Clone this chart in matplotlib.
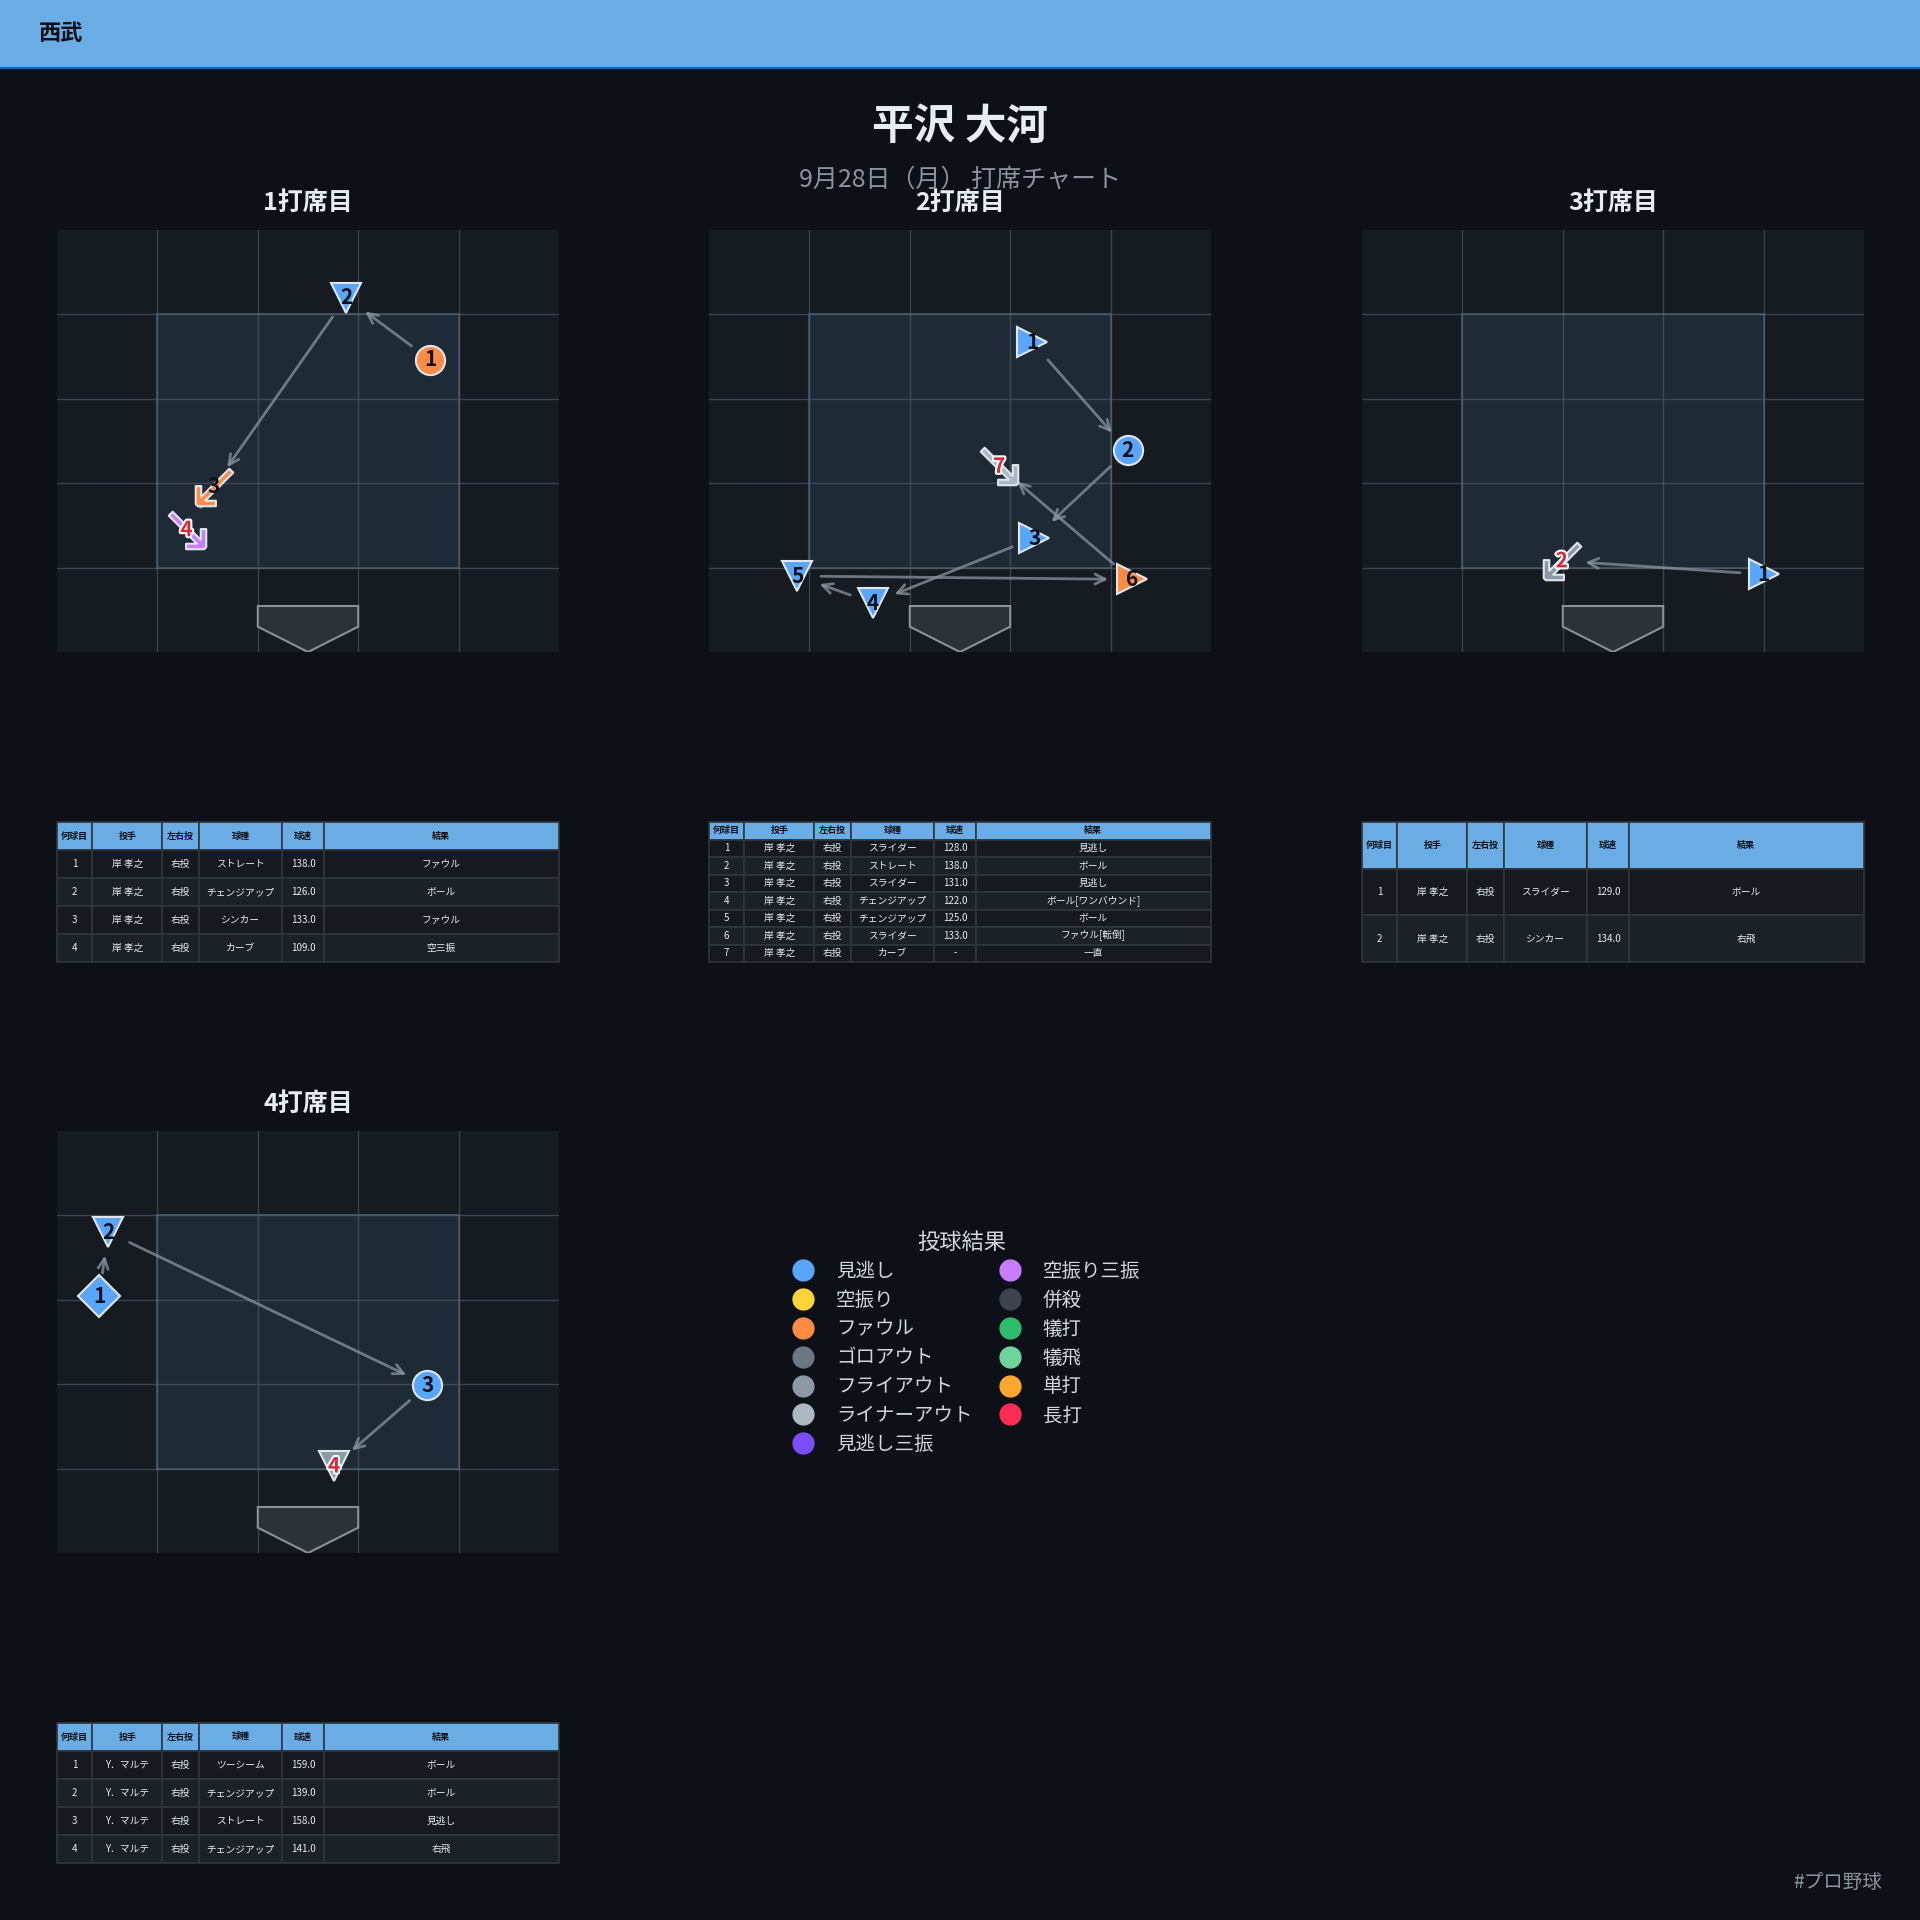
import matplotlib
matplotlib.use("Agg")
import matplotlib.pyplot as plt
from matplotlib.patches import Rectangle, Polygon
from matplotlib.lines import Line2D
import matplotlib.patheffects as pe

plt.rcParams['font.family'] = ['Noto Sans CJK JP', 'DejaVu Sans']

# --- データ ---
team_name = "西武"
player_name = "平沢 大河"
subtitle = "9月28日（月） 打席チャート"
hashtag = "#プロ野球"
ab_titles = ["1打席目", "2打席目", "3打席目", "4打席目"]

col_labels = ["何球目", "投手", "左右投", "球種", "球速", "結果"]

ab1_x = [3.72, 2.88, 1.56, 1.29]
ab1_y = [3.46, 4.20, 1.96, 1.45]
ab1_pitcher = ["岸 孝之", "岸 孝之", "岸 孝之", "岸 孝之"]
ab1_hand = ["右投", "右投", "右投", "右投"]
ab1_type = ["ストレート", "チェンジアップ", "シンカー", "カーブ"]
ab1_speed = ["138.0", "126.0", "133.0", "109.0"]
ab1_result = ["ファウル", "ボール", "ファウル", "空三振"]
ab1_cat = ["ファウル", "見逃し", "ファウル", "空振り三振"]

ab2_x = [3.22, 4.17, 3.24, 1.63, 0.88, 4.21, 2.89]
ab2_y = [3.67, 2.39, 1.35, 0.58, 0.90, 0.86, 2.20]
ab2_pitcher = ["岸 孝之"] * 7
ab2_hand = ["右投"] * 7
ab2_type = ["スライダー", "ストレート", "スライダー", "チェンジアップ",
            "チェンジアップ", "スライダー", "カーブ"]
ab2_speed = ["128.0", "138.0", "131.0", "122.0", "125.0", "133.0", "-"]
ab2_result = ["見逃し", "ボール", "見逃し", "ボール[ワンバウンド]", "ボール",
              "ファウル[転倒]", "一直"]
ab2_cat = ["見逃し", "見逃し", "見逃し", "見逃し", "見逃し", "ファウル", "ライナーアウト"]

ab3_x = [4.00, 1.99]
ab3_y = [0.92, 1.08]
ab3_pitcher = ["岸 孝之", "岸 孝之"]
ab3_hand = ["右投", "右投"]
ab3_type = ["スライダー", "シンカー"]
ab3_speed = ["129.0", "134.0"]
ab3_result = ["ボール", "右飛"]
ab3_cat = ["見逃し", "フライアウト"]

ab4_x = [0.42, 0.51, 3.69, 2.76]
ab4_y = [3.04, 3.80, 1.99, 1.03]
ab4_pitcher = ["Y．マルテ"] * 4
ab4_hand = ["右投"] * 4
ab4_type = ["ツーシーム", "チェンジアップ", "ストレート", "チェンジアップ"]
ab4_speed = ["159.0", "139.0", "158.0", "141.0"]
ab4_result = ["ボール", "ボール", "見逃し", "右飛"]
ab4_cat = ["見逃し", "見逃し", "見逃し", "フライアウト"]

legend_labels = ["見逃し", "空振り", "ファウル", "ゴロアウト", "フライアウト",
                 "ライナーアウト", "見逃し三振", "空振り三振", "併殺", "犠打",
                 "犠飛", "単打", "長打"]
legend_colors = ["#58a6ff", "#ffd43b", "#ff8c42", "#6b7785", "#8b98a5",
                 "#adb8c2", "#7c4dff", "#c77dff", "#3d4450", "#2ebd6b",
                 "#6fd39a", "#ffa630", "#ff2d55"]

# --- スタイル ---
BG = "#0d1117"
PANEL = "#161b22"
ZONE = "#1f2a37"
BLUE = "#6aade4"
TXT = "#e6edf3"
GRAY = "#8b949e"

cat_color = dict(zip(legend_labels, legend_colors))
pitch_marker = {"ストレート": "o", "チェンジアップ": "v", "シンカー": r"$\swarrow$",
                "カーブ": r"$\searrow$", "スライダー": ">", "ツーシーム": "D"}

W = H = 1920
fig = plt.figure(figsize=(19.2, 19.2), dpi=100, facecolor=BG)


def box(l, t, w, h):
    return [l / W, 1 - (t + h) / H, w / W, h / H]


# ヘッダー帯
fig.patches.append(Rectangle((0, 1 - 67 / H), 1, 67 / H, transform=fig.transFigure,
                             facecolor=BLUE, edgecolor="none", zorder=0))
fig.patches.append(Rectangle((0, 1 - 69 / H), 1, 2 / H, transform=fig.transFigure,
                             facecolor="#2f5f8a", edgecolor="none", zorder=0))
fig.text(39 / W, 1 - 34 / H, team_name, fontsize=16, fontweight="bold",
         color="#0d1117", va="center", ha="left")
fig.text(0.5, 1 - 127 / H, player_name, fontsize=30, fontweight="bold",
         color=TXT, ha="center", va="center")
fig.text(0.5, 1 - 180 / H, subtitle, fontsize=18, color=GRAY, ha="center", va="center")
fig.text(1882 / W, 1 - 1882 / H, hashtag, fontsize=14, color=GRAY, ha="right", va="center")

lefts = [57, 709, 1362]
slots = [(lefts[0], 230), (lefts[1], 230), (lefts[2], 230), (lefts[0], 1131)]
at_bats = [
    (ab1_x, ab1_y, ab1_pitcher, ab1_hand, ab1_type, ab1_speed, ab1_result, ab1_cat),
    (ab2_x, ab2_y, ab2_pitcher, ab2_hand, ab2_type, ab2_speed, ab2_result, ab2_cat),
    (ab3_x, ab3_y, ab3_pitcher, ab3_hand, ab3_type, ab3_speed, ab3_result, ab3_cat),
    (ab4_x, ab4_y, ab4_pitcher, ab4_hand, ab4_type, ab4_speed, ab4_result, ab4_cat),
]

for i, (xs, ys, pit, hand, ptype, spd, res, cat) in enumerate(at_bats):
    l, t = slots[i]
    ax = fig.add_axes(box(l, t, 502, 422))
    ax.set_xlim(0, 5)
    ax.set_ylim(0, 5)
    ax.set_facecolor(PANEL)
    for s in ax.spines.values():
        s.set_visible(False)
    ax.set_xticks([])
    ax.set_yticks([])

    ax.add_patch(Rectangle((1, 1), 3, 3, facecolor=ZONE, edgecolor="#3b4b5c",
                           lw=1.5, zorder=1))
    for g in [1, 2, 3, 4]:
        ax.axvline(g, color="#5a6673", lw=1, alpha=0.55, zorder=2)
        ax.axhline(g, color="#5a6673", lw=1, alpha=0.55, zorder=2)
    plate = Polygon([(2, 0.545), (3, 0.545), (3, 0.30), (2.5, 0.0), (2, 0.30)],
                    closed=True, facecolor="#2d3239", edgecolor="#8b9198", lw=1.5, zorder=3)
    ax.add_patch(plate)

    # 投球の順番の矢印
    for k in range(len(xs) - 1):
        ax.annotate("", xy=(xs[k + 1], ys[k + 1]), xytext=(xs[k], ys[k]),
                    arrowprops=dict(arrowstyle="->", color=GRAY, lw=2, alpha=0.75,
                                    shrinkA=17, shrinkB=17, mutation_scale=18),
                    zorder=4)

    n = len(xs)
    for k in range(n):
        mk = pitch_marker[ptype[k]]
        ax.plot(xs[k], ys[k], marker=mk, markersize=27 if mk.startswith("$") else 21,
                markerfacecolor=cat_color[cat[k]], markeredgecolor="#dfe6ee",
                markeredgewidth=1.5, linestyle="none", zorder=5)
        if k == n - 1:
            ax.text(xs[k], ys[k], str(k + 1), fontsize=15, fontweight="bold",
                    color="#dc2638", ha="center", va="center", zorder=6,
                    path_effects=[pe.withStroke(linewidth=3, foreground="white")])
        else:
            ax.text(xs[k], ys[k], str(k + 1), fontsize=15, fontweight="bold",
                    color="#0d1117", ha="center", va="center", zorder=6)

    fig.text((l + 251) / W, 1 - (t - 27) / H, ab_titles[i], fontsize=18,
             fontweight="bold", color=TXT, ha="center", va="center")

    # 投球テーブル
    tax = fig.add_axes(box(l, t + 592, 502, 140))
    tax.axis("off")
    rows = [[str(k + 1), pit[k], hand[k], ptype[k], spd[k], res[k]] for k in range(n)]
    tbl = tax.table(cellText=rows, colLabels=col_labels, cellLoc="center",
                    colWidths=[0.07, 0.14, 0.072, 0.167, 0.082, 0.469],
                    bbox=[0, 0, 1, 1])
    tbl.auto_set_font_size(False)
    for (r, c), cell in tbl.get_celld().items():
        cell.set_edgecolor("#30363d")
        cell.set_linewidth(1.2)
        if r == 0:
            cell.set_facecolor(BLUE)
            cell.get_text().set_color("#0d1117")
            cell.get_text().set_fontweight("bold")
            cell.get_text().set_fontsize(6.5)
        else:
            cell.set_facecolor("#161a20" if r % 2 == 1 else "#1c2128")
            cell.get_text().set_color(TXT)
            cell.get_text().set_fontsize(7)

# 凡例
handles = [Line2D([], [], marker="o", linestyle="none", markersize=15,
                  markerfacecolor=c, markeredgecolor=c) for c in legend_colors]
leg = fig.legend(handles, legend_labels, title="投球結果", ncol=2,
                 loc="upper center", bbox_to_anchor=(962 / W, 1 - 1213 / H),
                 frameon=False, fontsize=14, title_fontsize=16,
                 labelspacing=0.4, handletextpad=0.7, columnspacing=0.9,
                 labelcolor="#d0d7de")
leg.get_title().set_color("#d0d7de")

fig.savefig("out.png", dpi=100, facecolor=BG)
